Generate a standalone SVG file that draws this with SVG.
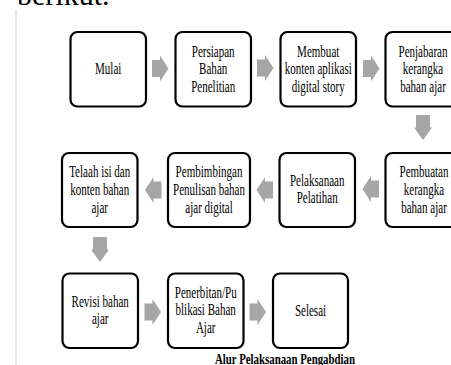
<svg xmlns="http://www.w3.org/2000/svg" xmlns:xlink="http://www.w3.org/1999/xlink" width="451" height="365" viewBox="0 0 451 365">
<style>
.box{fill:#fff;stroke:#000;stroke-width:2.2}
.t{font-family:"Liberation Serif","Times New Roman",serif;font-size:16px;fill:#000;text-anchor:middle}
.arr{fill:#a6a6a6}
.cap{font-family:"Liberation Serif","Times New Roman",serif;font-size:14px;font-weight:bold;fill:#000}
</style>
<defs>
<path id="ar" d="M-8,-8.5 H0 V-13 L8.5,0 L0,13 V8.5 H-8 Z"/>
<path id="ad" d="M-7,-12.5 H7 V0 H9 L0,12.5 L-9,0 H-7 Z"/>
</defs>
<rect width="451" height="365" fill="#fff"/>
<line x1="16" y1="10" x2="16" y2="365" stroke="#cfcfcf" stroke-width="1"/>
<text x="17" y="5" font-family="Liberation Serif,serif" font-size="30" fill="#000">berikut.</text>
<g id="connectors" class="arr">
<use xlink:href="#ar" transform="translate(160,68.5)"/>
<use xlink:href="#ar" transform="translate(265,68)"/>
<use xlink:href="#ar" transform="translate(371,68.5)"/>
<use xlink:href="#ad" transform="translate(423,127.5)"/>
<use xlink:href="#ar" transform="translate(371,189) scale(-1,1)"/>
<use xlink:href="#ar" transform="translate(265,190) scale(-1,1)"/>
<use xlink:href="#ar" transform="translate(153.5,190) scale(-1,1)"/>
<use xlink:href="#ad" transform="translate(100,249.5)"/>
<use xlink:href="#ar" transform="translate(152.5,312)"/>
<use xlink:href="#ar" transform="translate(257.5,312)"/>
</g>
<g id="n1"><rect class="box" x="70.5" y="32" width="75.5" height="74.5" rx="7"/>
<text class="t" transform="matrix(0.69 0 0 1 108.2 0)" x="0" y="74.5">Mulai</text></g>
<g id="n2"><rect class="box" x="175.5" y="32" width="75.5" height="74.5" rx="7"/>
<text class="t" transform="matrix(0.69 0 0 1 213.2 0)"><tspan x="0" y="57">Persiapan</tspan><tspan x="0" y="74.5">Bahan</tspan><tspan x="0" y="92">Penelitian</tspan></text></g>
<g id="n3"><rect class="box" x="280.5" y="32" width="75.5" height="74.5" rx="7"/>
<text class="t" transform="matrix(0.69 0 0 1 318.2 0)"><tspan x="0" y="57">Membuat</tspan><tspan x="0" y="74.5">konten aplikasi</tspan><tspan x="0" y="92">digital story</tspan></text></g>
<g id="n4"><rect class="box" x="385.5" y="32" width="75.5" height="74.5" rx="7"/>
<text class="t" transform="matrix(0.69 0 0 1 423 0)"><tspan x="0" y="57">Penjabaran</tspan><tspan x="0" y="74.5">kerangka</tspan><tspan x="0" y="92">bahan ajar</tspan></text></g>
<g id="n5"><rect class="box" x="385.5" y="153" width="75.5" height="74" rx="7"/>
<text class="t" transform="matrix(0.69 0 0 1 424 0)"><tspan x="0" y="177">Pembuatan</tspan><tspan x="0" y="195">kerangka</tspan><tspan x="0" y="213">bahan ajar</tspan></text></g>
<g id="n6"><rect class="box" x="279.5" y="153" width="75.5" height="74" rx="7"/>
<text class="t" transform="matrix(0.69 0 0 1 317.2 0)"><tspan x="0" y="186">Pelaksanaan</tspan><tspan x="0" y="203">Pelatihan</tspan></text></g>
<g id="n7"><rect class="box" x="168" y="153" width="82" height="74" rx="7"/>
<text class="t" transform="matrix(0.69 0 0 1 209 0)"><tspan x="0" y="177">Pembimbingan</tspan><tspan x="0" y="195">Penulisan bahan</tspan><tspan x="0" y="213">ajar digital</tspan></text></g>
<g id="n8"><rect class="box" x="62" y="153" width="75.5" height="74" rx="7"/>
<text class="t" transform="matrix(0.69 0 0 1 99.7 0)"><tspan x="0" y="177">Telaah isi dan</tspan><tspan x="0" y="195">konten bahan</tspan><tspan x="0" y="213">ajar</tspan></text></g>
<g id="n9"><rect class="box" x="62.5" y="273.5" width="75.5" height="74.5" rx="7"/>
<text class="t" transform="matrix(0.69 0 0 1 100.2 0)"><tspan x="0" y="307">Revisi bahan</tspan><tspan x="0" y="324.5">ajar</tspan></text></g>
<g id="n10"><rect class="box" x="168" y="273.5" width="75.5" height="74.5" rx="7"/>
<text class="t" transform="matrix(0.69 0 0 1 205.7 0)"><tspan x="0" y="298">Penerbitan/Pu</tspan><tspan x="0" y="315.5">blikasi Bahan</tspan><tspan x="0" y="333">Ajar</tspan></text></g>
<g id="n11"><rect class="box" x="273" y="273.5" width="75" height="74.5" rx="7"/>
<text class="t" transform="matrix(0.69 0 0 1 310.5 0)" x="0" y="316">Selesai</text></g>
<text class="cap" x="215" y="364" textLength="140" lengthAdjust="spacingAndGlyphs">Alur Pelaksanaan Pengabdian</text>
</svg>
